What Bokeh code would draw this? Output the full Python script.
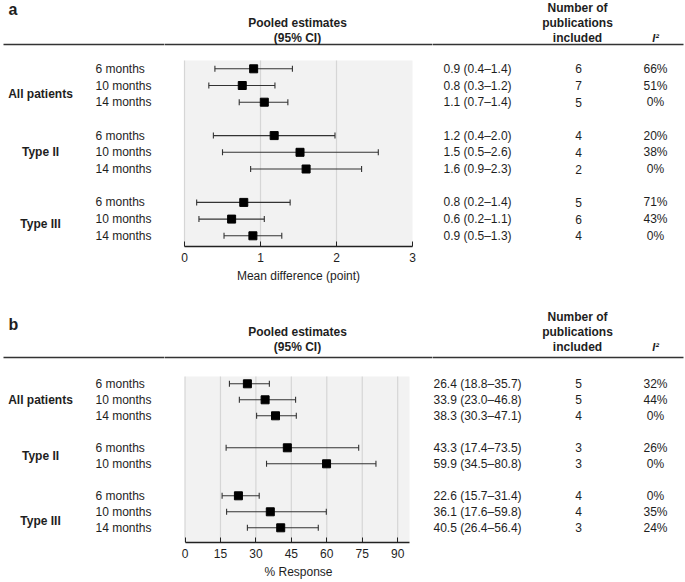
from bokeh.plotting import figure
from bokeh.models import Range1d, LinearAxis, FixedTicker
from bokeh.layouts import column, row
from bokeh.core.properties import value
from bokeh.embed import file_html
from bokeh.resources import INLINE
import numpy as np

FONT = "Liberation Sans"
TXT = "#1e1e1e"

# ---------------- data: panel a (mean difference, points) ----------------
a_groups = ["All patients", "Type II", "Type III"]
a_months = ["6 months", "10 months", "14 months",
            "6 months", "10 months", "14 months",
            "6 months", "10 months", "14 months"]
a_est = [0.91, 0.76, 1.05, 1.18, 1.52, 1.60, 0.78, 0.62, 0.90]
a_lo = [0.40, 0.32, 0.72, 0.38, 0.50, 0.87, 0.16, 0.19, 0.52]
a_hi = [1.42, 1.19, 1.36, 1.98, 2.55, 2.33, 1.39, 1.05, 1.28]
a_text = ["0.9 (0.4\u20131.4)", "0.8 (0.3\u20131.2)", "1.1 (0.7\u20131.4)",
          "1.2 (0.4\u20132.0)", "1.5 (0.5\u20132.6)", "1.6 (0.9\u20132.3)",
          "0.8 (0.2\u20131.4)", "0.6 (0.2\u20131.1)", "0.9 (0.5\u20131.3)"]
a_n = ["6", "7", "5", "4", "4", "2", "5", "6", "4"]
a_i2 = ["66%", "51%", "0%", "20%", "38%", "0%", "71%", "43%", "0%"]
a_ticks = [0, 1, 2, 3]
a_xlabel = "Mean difference (point)"

# ---------------- data: panel b (% response) ----------------
b_groups = ["All patients", "Type II", "Type III"]
b_months = ["6 months", "10 months", "14 months",
            "6 months", "10 months",
            "6 months", "10 months", "14 months"]
b_est = [26.4, 33.9, 38.3, 43.3, 59.9, 22.6, 36.1, 40.5]
b_lo = [18.8, 23.0, 30.3, 17.4, 34.5, 15.7, 17.6, 26.4]
b_hi = [35.7, 46.8, 47.1, 73.5, 80.8, 31.4, 59.8, 56.4]
b_text = ["26.4 (18.8\u201335.7)", "33.9 (23.0\u201346.8)", "38.3 (30.3\u201347.1)",
          "43.3 (17.4\u201373.5)", "59.9 (34.5\u201380.8)",
          "22.6 (15.7\u201331.4)", "36.1 (17.6\u201359.8)", "40.5 (26.4\u201356.4)"]
b_n = ["5", "5", "4", "3", "3", "4", "4", "3"]
b_i2 = ["32%", "44%", "0%", "26%", "0%", "0%", "35%", "24%"]
b_ticks = [0, 15, 30, 45, 60, 75, 90]
b_xlabel = "% Response"

# ---------------- layout (page pixel coordinates) ----------------
W = 685
SPLIT1, SPLIT2 = 164, 432   # column boundaries: labels | forest plot | table


def txt(p, x, y, t, size="12px", align="left", style="normal", yname=None):
    kw = dict(x=x, y=y, text=t, text_font=value(FONT), text_font_size=size,
              text_align=align, text_baseline="middle", text_color=TXT,
              text_font_style=style)
    if yname:
        kw["y_range_name"] = yname
    p.text(**kw)


def base_fig(x0, x1, fig_top, fig_h, axis_y, row0, rowh):
    p = figure(width=x1 - x0, height=fig_h,
               x_range=Range1d(x0, x1), y_range=Range1d(axis_y, fig_top),
               x_axis_type=None, y_axis_type=None,
               toolbar_location=None, output_backend="svg",
               min_border_left=0, min_border_right=0, min_border_top=0,
               min_border_bottom=fig_top + fig_h - axis_y,
               outline_line_color=None, background_fill_color="white",
               border_fill_color="white")
    p.extra_y_ranges = {"rows": Range1d((axis_y - row0) / rowh, (fig_top - row0) / rowh)}
    return p


def make_panel(letter, fig_top, fig_h, axis_y, rule_y, head_y, head_step, letter_y,
               bg_top, row0, rowh, row_idx, group_rows, groups, months, est, lo, hi,
               est_text, n_pubs, i2, xmax, ticks, grid_ticks, px0, px1, xlabel, est_x):
    rule = dict(line_color="#333333", line_width=1.6)

    # ---- left: group and time-point labels
    pl = base_fig(0, SPLIT1, fig_top, fig_h, axis_y, row0, rowh)
    txt(pl, 8, letter_y, [letter], size="16px", style="bold")
    pl.segment(x0=[3], x1=[SPLIT1 + 5], y0=[rule_y], y1=[rule_y], **rule)
    txt(pl, 40, group_rows, groups, align="center", style="bold", yname="rows")
    txt(pl, 95, row_idx, months, yname="rows")

    # ---- middle: forest plot
    pm = base_fig(SPLIT1, SPLIT2, fig_top, fig_h, axis_y, row0, rowh)
    k = (px1 - px0) / xmax
    pm.extra_x_ranges = {"est": Range1d(-(px0 - SPLIT1) / k, xmax + (SPLIT2 - px1) / k)}
    pm.segment(x0=[SPLIT1 - 5], x1=[SPLIT2 + 5], y0=[rule_y], y1=[rule_y], **rule)
    txt(pm, 297, head_y, ["Pooled estimates"], align="center", style="bold")
    txt(pm, 297, head_y + head_step, ["(95% CI)"], align="center", style="bold")
    pm.quad(left=0, right=xmax, top=bg_top, bottom=axis_y, x_range_name="est",
            fill_color="#f2f2f2", line_color=None)
    pm.segment(x0=grid_ticks, x1=grid_ticks, y0=bg_top, y1=axis_y, x_range_name="est",
               line_color="#d6d6d6", line_width=1.2)
    pm.segment(x0=lo, x1=hi, y0=row_idx, y1=row_idx, x_range_name="est", y_range_name="rows",
               line_color="#333333", line_width=1.1)
    pm.scatter(x=lo + hi, y=row_idx + row_idx, marker="dash", angle=np.pi / 2, size=6,
               line_color="#333333", line_width=1.1, x_range_name="est", y_range_name="rows")
    pm.scatter(x=est, y=row_idx, marker="square", size=8, fill_color="black",
               line_color="black", x_range_name="est", y_range_name="rows")

    ax = LinearAxis(x_range_name="est", bounds=(0, xmax),
                    ticker=FixedTicker(ticks=ticks, minor_ticks=[]), axis_label=xlabel)
    ax.major_tick_in = 5
    ax.major_tick_out = 0
    ax.minor_tick_in = 0
    ax.minor_tick_out = 0
    ax.axis_line_color = "#222222"
    ax.axis_line_width = 1.3
    ax.major_tick_line_color = "#222222"
    ax.major_label_text_font = FONT
    ax.major_label_text_font_size = "12px"
    ax.major_label_text_color = TXT
    ax.major_label_standoff = 6
    ax.axis_label_text_font = FONT
    ax.axis_label_text_font_size = "12px"
    ax.axis_label_text_font_style = "normal"
    ax.axis_label_text_color = TXT
    ax.axis_label_standoff = 4
    pm.add_layout(ax, "below")

    # ---- right: table columns
    pr = base_fig(SPLIT2, W, fig_top, fig_h, axis_y, row0, rowh)
    pr.segment(x0=[SPLIT2 - 5], x1=[683], y0=[rule_y], y1=[rule_y], **rule)
    txt(pr, 577, head_y - head_step, ["Number of"], align="center", style="bold")
    txt(pr, 577, head_y, ["publications"], align="center", style="bold")
    txt(pr, 577, head_y + head_step, ["included"], align="center", style="bold")
    txt(pr, 655, head_y + head_step, ["I\u00b2"], size="11px", align="center", style="bold italic")
    txt(pr, est_x, row_idx, est_text, yname="rows")
    txt(pr, 578, row_idx, n_pubs, align="center", yname="rows")
    txt(pr, 655, row_idx, i2, align="center", yname="rows")

    return row(pl, pm, pr, spacing=0)


pa = make_panel("a", fig_top=0, fig_h=290, axis_y=246, rule_y=44, head_y=22.5,
                head_step=14.7, letter_y=9, bg_top=60, row0=68.3, rowh=16.7,
                row_idx=[0, 1, 2, 4, 5, 6, 8, 9, 10], group_rows=[1.5, 5, 9.3],
                groups=a_groups, months=a_months, est=a_est, lo=a_lo, hi=a_hi,
                est_text=a_text, n_pubs=a_n, i2=a_i2, xmax=3, ticks=a_ticks,
                grid_ticks=[0, 1, 2], px0=184, px1=412, xlabel=a_xlabel, est_x=443)

pb = make_panel("b", fig_top=290, fig_h=292, axis_y=542, rule_y=357, head_y=331,
                head_step=15, letter_y=324, bg_top=376, row0=383.3, rowh=16,
                row_idx=[0, 1, 2, 4, 5, 7, 8, 9], group_rows=[1, 4.5, 8.6],
                groups=b_groups, months=b_months, est=b_est, lo=b_lo, hi=b_hi,
                est_text=b_text, n_pubs=b_n, i2=b_i2, xmax=95, ticks=b_ticks,
                grid_ticks=b_ticks, px0=184.5, px1=409, xlabel=b_xlabel, est_x=433)

layout = column(pa, pb, spacing=0)
open("out.html", "w").write(file_html(layout, INLINE))
